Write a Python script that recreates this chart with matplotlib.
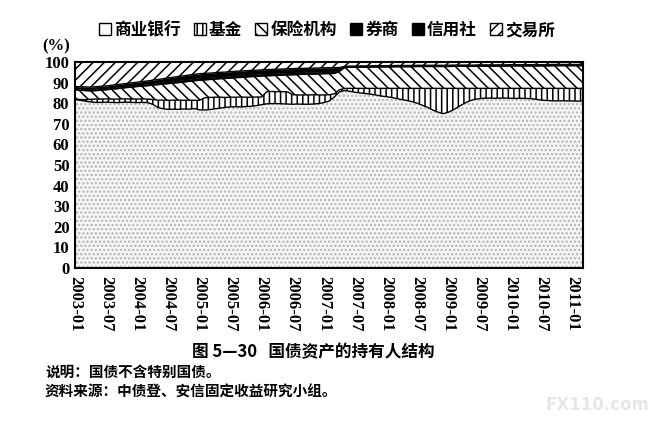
import numpy as np
import matplotlib
matplotlib.use("Agg")
import matplotlib.pyplot as plt
from matplotlib.patches import Patch

plt.rcParams['font.family'] = ['Noto Sans CJK SC', 'DejaVu Sans']
plt.rcParams['hatch.linewidth'] = 1.1

# monthly data 2003-01 .. 2011-03 (shares, %)
bank = [81.8, 81.4, 81.0, 80.6, 80.4, 80.4, 80.5, 80.4, 80.3, 80.4,
        80.5, 80.4, 80.3, 80.4, 80.3, 79.5, 77.9, 77.3, 77.0, 77.1,
        77.0, 77.2, 77.1, 77.4, 76.8, 76.7, 76.9, 77.3, 77.6, 78.0,
        78.2, 78.3, 78.2, 78.4, 78.5, 78.8, 79.3, 79.7, 79.8, 79.8,
        79.7, 79.6, 79.5, 79.6, 79.5, 79.5, 79.6, 79.8, 80.3, 81.0,
        83.0, 85.5, 86.2, 85.8, 85.3, 85.0, 84.7, 84.4, 84.0, 83.5,
        83.2, 82.8, 82.3, 81.8, 81.3, 80.8, 80.0, 79.0, 78.0, 76.7,
        75.7, 74.9, 75.6, 76.8, 78.3, 79.8, 81.0, 81.8, 82.2, 82.4,
        82.5, 82.4, 82.5, 82.5, 82.4, 82.3, 82.4, 82.3, 82.2, 81.9,
        81.5, 81.3, 81.2, 81.1, 81.2, 81.1, 81.1, 81.0, 81.1]
fund = [0.2, 0.4, 0.7, 1.3, 1.6, 1.6, 1.6, 1.6, 1.7, 1.7,
        1.6, 1.6, 1.7, 1.7, 1.7, 2.3, 3.6, 4.2, 4.4, 4.4,
        4.5, 4.2, 4.4, 4.0, 4.6, 5.9, 5.9, 5.6, 5.3, 4.8,
        4.7, 4.6, 4.8, 4.5, 4.4, 4.2, 3.7, 5.9, 5.9, 5.8,
        5.9, 5.9, 4.6, 4.4, 4.5, 4.5, 4.5, 4.2, 3.7, 3.1,
        1.5, 1.0, 1.0, 1.4, 1.9, 2.2, 2.5, 2.8, 3.2, 3.7,
        4.0, 4.4, 4.9, 5.4, 5.9, 6.4, 7.2, 8.2, 9.2, 10.5,
        11.5, 12.3, 11.6, 10.4, 8.9, 7.4, 6.2, 5.4, 5.0, 4.8,
        4.7, 4.8, 4.7, 4.7, 4.8, 4.9, 4.8, 4.9, 5.0, 5.3,
        5.7, 5.9, 6.0, 6.1, 6.0, 6.1, 6.1, 6.2, 6.1]
insurance = [4.5, 4.5, 4.4, 4.1, 4.1, 4.3, 4.4, 4.8, 5.0, 5.2,
             5.5, 5.8, 6.1, 6.2, 6.5, 7.0, 7.5, 7.8, 8.1, 8.3,
             8.5, 8.9, 9.1, 9.5, 9.7, 8.7, 8.7, 8.8, 9.0, 9.2,
             9.3, 9.5, 9.5, 9.8, 10.0, 10.0, 10.2, 7.7, 7.7, 7.9,
             8.0, 8.2, 9.7, 9.9, 10.0, 10.1, 10.0, 10.2, 10.3, 10.3,
             9.9, 9.0, 10.1, 10.2, 10.2, 10.3, 10.3, 10.3, 10.4, 10.4,
             10.4, 10.4, 10.5, 10.5, 10.5, 10.5, 10.6, 10.6, 10.6, 10.6,
             10.6, 10.6, 10.6, 10.7, 10.7, 10.7, 10.7, 10.7, 10.8, 10.8,
             10.8, 10.8, 10.8, 10.8, 10.9, 10.9, 10.9, 10.9, 10.9, 10.9,
             10.9, 10.9, 11.0, 11.0, 11.0, 11.0, 11.0, 11.0, 11.0]
securities = [0.6, 0.7, 0.7, 0.7, 0.8, 0.8, 0.8, 0.8, 0.8, 0.8,
              0.8, 0.8, 0.8, 0.9, 0.9, 0.9, 1.0, 1.0, 1.1, 1.1,
              1.2, 1.2, 1.2, 1.2, 1.3, 1.3, 1.2, 1.2, 1.2, 1.2,
              1.2, 1.2, 1.2, 1.2, 1.2, 1.2, 1.2, 1.2, 1.2, 1.2,
              1.2, 1.2, 1.2, 1.2, 1.1, 1.1, 1.1, 1.1, 1.1, 1.1,
              1.1, 0.7, 0.3, 0.3, 0.3, 0.3, 0.3, 0.3, 0.3, 0.3,
              0.3, 0.3, 0.3, 0.3, 0.3, 0.3, 0.3, 0.3, 0.3, 0.3,
              0.3, 0.3, 0.3, 0.3, 0.3, 0.3, 0.3, 0.3, 0.3, 0.3,
              0.3, 0.3, 0.3, 0.3, 0.3, 0.3, 0.3, 0.3, 0.3, 0.3,
              0.3, 0.3, 0.3, 0.3, 0.3, 0.3, 0.3, 0.3, 0.3]
credit_coop = [1.0, 1.0, 1.1, 1.1, 1.1, 1.1, 1.1, 1.1, 1.2, 1.2,
               1.2, 1.3, 1.3, 1.3, 1.4, 1.5, 1.5, 1.6, 1.7, 1.7,
               1.8, 1.8, 1.9, 1.9, 1.9, 1.9, 1.9, 1.9, 1.9, 1.9,
               1.9, 1.9, 1.9, 1.9, 1.8, 1.8, 1.8, 1.8, 1.8, 1.8,
               1.8, 1.8, 1.8, 1.8, 1.8, 1.8, 1.8, 1.8, 1.8, 1.7,
               1.8, 1.1, 0.3, 0.3, 0.3, 0.3, 0.3, 0.3, 0.3, 0.3,
               0.3, 0.3, 0.3, 0.3, 0.3, 0.3, 0.3, 0.3, 0.3, 0.3,
               0.3, 0.3, 0.3, 0.3, 0.3, 0.3, 0.3, 0.3, 0.3, 0.3,
               0.3, 0.3, 0.3, 0.3, 0.3, 0.3, 0.3, 0.3, 0.3, 0.3,
               0.3, 0.3, 0.3, 0.3, 0.3, 0.3, 0.3, 0.3, 0.3]
exchange = [11.9, 12.0, 12.1, 12.2, 12.0, 11.8, 11.6, 11.3, 11.0, 10.7,
            10.4, 10.1, 9.8, 9.5, 9.2, 8.8, 8.5, 8.1, 7.7, 7.4,
            7.0, 6.7, 6.3, 6.0, 5.7, 5.5, 5.4, 5.2, 5.0, 4.9,
            4.7, 4.5, 4.4, 4.2, 4.1, 4.0, 3.8, 3.7, 3.6, 3.5,
            3.4, 3.3, 3.2, 3.1, 3.1, 3.0, 3.0, 2.9, 2.8, 2.8,
            2.7, 2.7, 2.1, 2.0, 2.0, 1.9, 1.9, 1.9, 1.8, 1.8,
            1.8, 1.8, 1.7, 1.7, 1.7, 1.7, 1.6, 1.6, 1.6, 1.6,
            1.6, 1.6, 1.6, 1.5, 1.5, 1.5, 1.5, 1.5, 1.4, 1.4,
            1.4, 1.4, 1.4, 1.4, 1.3, 1.3, 1.3, 1.3, 1.3, 1.3,
            1.3, 1.3, 1.2, 1.2, 1.2, 1.2, 1.2, 1.2, 1.2]

series_names = ['商业银行', '基金', '保险机构', '券商', '信用社', '交易所']
tick_labels = ['2003-01', '2003-07', '2004-01', '2004-07', '2005-01', '2005-07',
               '2006-01', '2006-07', '2007-01', '2007-07', '2008-01', '2008-07',
               '2009-01', '2009-07', '2010-01', '2010-07', '2011-01']

fig = plt.figure(figsize=(6.59, 4.22), dpi=100)
ax = fig.add_axes([75/659, 1-268/422, (583-75)/659, (268-62)/422])

data = np.array([bank, fund, insurance, securities, credit_coop, exchange])
x = np.arange(data.shape[1])
cum = np.vstack([np.zeros(data.shape[1]), np.cumsum(data, axis=0)])

styles = [
    dict(facecolor='#f6f6f6', hatch='....', edgecolor='#b4b4b4'),
    dict(facecolor='white', hatch='|||', edgecolor='black'),
    dict(facecolor='white', hatch='\\\\\\', edgecolor='black'),
    dict(facecolor='black', hatch=None, edgecolor='black'),
    dict(facecolor='black', hatch=None, edgecolor='black'),
    dict(facecolor='white', hatch='///', edgecolor='black'),
]

for i, st in enumerate(styles):
    ax.fill_between(x, cum[i], cum[i+1], facecolor=st['facecolor'],
                    hatch=st['hatch'], edgecolor=st['edgecolor'], linewidth=0)
for i in range(1, 6):
    ax.plot(x, cum[i], color='black', lw=1.0)

ax.set_xlim(0, len(x) - 1)
ax.set_ylim(0, 100)
ax.set_yticks(np.arange(0, 101, 10))
ax.set_xticks(np.arange(0, len(x), 6)[:len(tick_labels)])
ax.set_xticklabels(tick_labels, rotation=270, va='top', ha='center')
for lab in ax.get_yticklabels() + ax.get_xticklabels():
    lab.set_fontfamily('Liberation Serif')
    lab.set_fontweight('bold')
    lab.set_fontsize(12)
ax.tick_params(axis='both', length=0)
ax.tick_params(axis='y', pad=4)
ax.tick_params(axis='x', pad=6)
for sp in ax.spines.values():
    sp.set_linewidth(1.5)
    sp.set_color('black')

fig.text(56/659, 1-46/422, '(%)', ha='center', va='center',
         fontfamily='Liberation Serif', fontweight='bold', fontsize=12)

handles = [Patch(facecolor=st['facecolor'] if i != 0 else 'white',
                 edgecolor='black', hatch=st['hatch'] if i != 0 else None, linewidth=1.0)
           for i, st in enumerate(styles)]
fig.legend(handles, series_names, loc='center', bbox_to_anchor=(327/659, 1-30/422),
           ncol=6, frameon=False, handlelength=0.7, handleheight=0.7,
           handletextpad=0.2, columnspacing=0.8,
           prop=dict(family=['Noto Sans CJK SC'], weight='bold', size=12))

fig.text(313/659, 1-352/422, '图 5—30   国债资产的持有人结构', ha='center', va='center',
         fontweight='bold', fontsize=12)
fig.text(45/659, 1-372/422, '说明：国债不含特别国债。', ha='left', va='center',
         fontweight='bold', fontsize=10.5)
fig.text(45/659, 1-392/422, '资料来源：中债登、安信固定收益研究小组。', ha='left', va='center',
         fontweight='bold', fontsize=10.5)
fig.text(597/659, 1-405/422, 'FX110.com', ha='center', va='center',
         fontfamily='DejaVu Sans', fontweight='bold', fontsize=12, color='#e6e6e6')

fig.savefig('out.png', dpi=100)
